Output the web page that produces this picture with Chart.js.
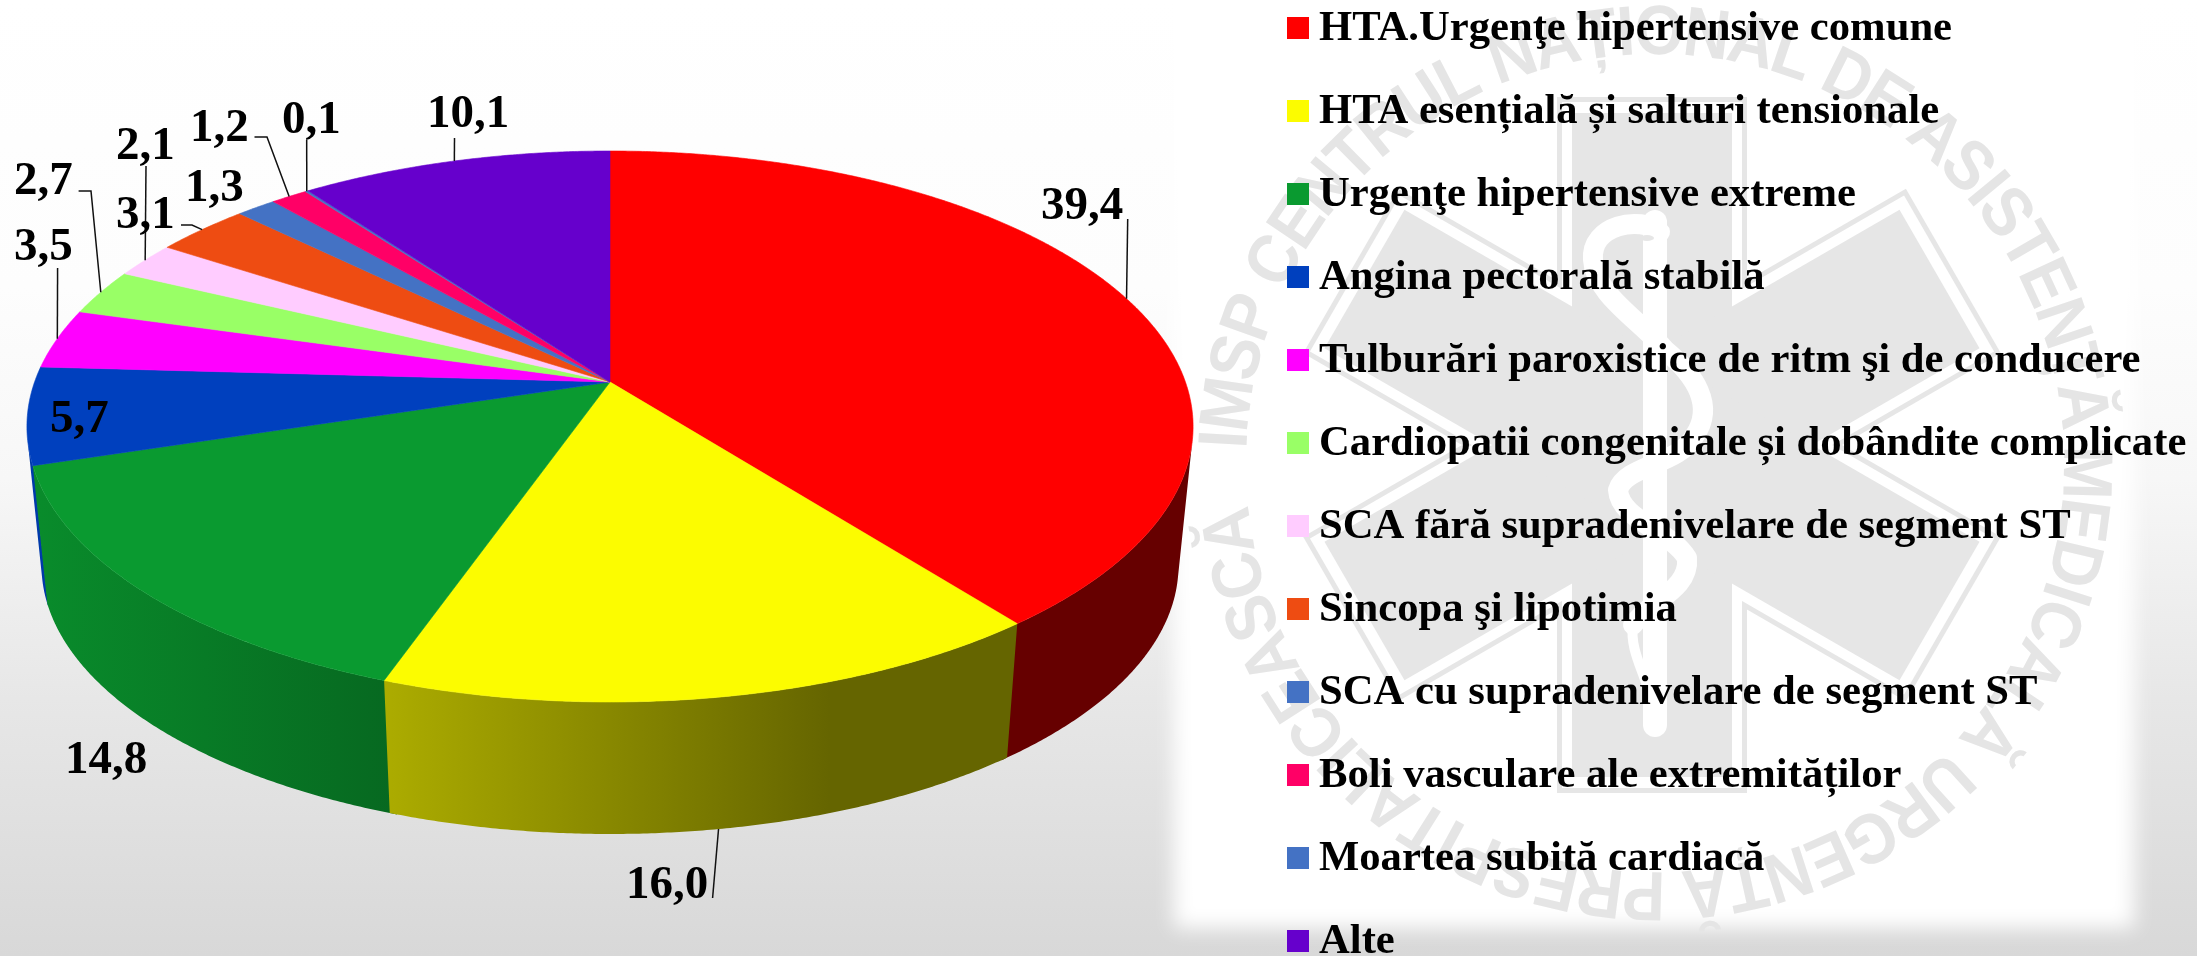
<!DOCTYPE html>
<html lang="ro">
<head>
<meta charset="utf-8">
<title>Pie chart</title>
<style>html,body{margin:0;padding:0;background:#fff}canvas{display:block}</style>
<script src="https://cdn.jsdelivr.net/npm/chart.js@4"></script>
</head>
<body>
<canvas id="c" width="2197" height="956"></canvas>
<script>
const categories = [
  "HTA.Urgenţe hipertensive comune",
  "HTA esențială și salturi tensionale",
  "Urgenţe hipertensive extreme",
  "Angina pectorală stabilă",
  "Tulburări paroxistice de ritm şi de conducere",
  "Cardiopatii congenitale și dobândite complicate",
  "SCA fără supradenivelare de segment ST",
  "Sincopa şi lipotimia",
  "SCA cu supradenivelare de segment ST",
  "Boli vasculare ale extremităților",
  "Moartea subită cardiacă",
  "Alte"
];
const values = [39.4, 16.0, 14.8, 5.7, 3.5, 2.7, 2.1, 3.1, 1.3, 1.2, 0.1, 10.1];
const valueLabels = ["39,4","16,0","14,8","5,7","3,5","2,7","2,1","3,1","1,3","1,2","0,1","10,1"];
const colors = ["#FF0000","#FCFC00","#0A9A30","#0040BE","#FF00FF","#99FF66","#FFCCFF","#EE4C12","#4472C4","#FF0066","#4472C4","#6600CC"];

// label layout: left x and baseline y of each value label
const labelPos = [[1041,219],[626,898],[65,773],[50,432],[14,260],[14,194],[116,159],[116,228],[185,201],[190,141],[282,133],[427,127]];
// leader start points (with optional elbow); null = no leader
const leaderStart = [
  [[1127.7,219]], [[712.6,898]], null, null, [[57.6,268]], [[78.6,191],[91,191]],
  [[146,166]], [[181,225],[192,225]], null, [[254.5,137],[267,137]], [[306.7,140]], [[454.5,138]]
];
const watermarkText = "IMSP CENTRUL NAȚIONAL DE ASISTENȚĂ MEDICALĂ URGENȚĂ PRESPITALICEASCĂ";

// perspective of the pie
const K = 0.1615, AX = 2.491, AY = 1.1615, DEPTH = 140, SHRINK = 0.975;
const FONT = '"Liberation Serif","Times New Roman",serif';

function project(arc, angle, bottom) {
  const u = Math.cos(angle), v = -Math.sin(angle), w = 1 + K * v, r = arc.outerRadius;
  const s = bottom ? SHRINK : 1;
  return [arc.x + s * AX * r * u / w, arc.y + (bottom ? DEPTH : 0) - s * AY * r * v / w];
}
function shade(hex, f) {
  const n = parseInt(hex.slice(1), 16);
  return `rgb(${Math.round((n >> 16) * f)},${Math.round(((n >> 8) & 255) * f)},${Math.round((n & 255) * f)})`;
}
function tracePath(ctx, pts) {
  ctx.beginPath();
  pts.forEach((p, i) => i ? ctx.lineTo(p[0], p[1]) : ctx.moveTo(p[0], p[1]));
  ctx.closePath();
}
function arcPts(arc, a0, a1, bottom) {
  const n = Math.max(2, Math.ceil(Math.abs(a1 - a0) / 0.006)), pts = [];
  for (let i = 0; i <= n; i++) pts.push(project(arc, a0 + (a1 - a0) * i / n, bottom));
  return pts;
}
function quadArea(a, b, c, d) {
  const q = [a, b, c, d];
  let s = 0;
  for (let i = 0; i < 4; i++) { const p = q[i], n = q[(i + 1) % 4]; s += p[0] * n[1] - n[0] * p[1]; }
  return s;
}
// outline of the part of a wall that faces the viewer
function frontWall(arc, a0, a1) {
  const up = arcPts(arc, a0, a1, false), low = arcPts(arc, a0, a1, true);
  const keepU = [], keepL = [];
  for (let k = 0; k + 1 < up.length; k++) {
    if (quadArea(up[k], up[k + 1], low[k + 1], low[k]) > 0) continue;
    if (!keepU.length) { keepU.push(up[k]); keepL.push(low[k]); }
    keepU.push(up[k + 1]); keepL.push(low[k + 1]);
  }
  return keepU.concat(keepL.reverse());
}

const pie3d = {
  id: 'pie3d',
  beforeDraw(chart) {
    const ctx = chart.ctx, W = chart.width, H = chart.height;
    ctx.save();
    const g = ctx.createLinearGradient(0, 0, 0, H);
    [[0,'#ffffff'],[0.3,'#fdfdfd'],[0.5,'#f7f7f7'],[0.73,'#e7e7e7'],[1,'#d8d8d8']].forEach(s => g.addColorStop(s[0], s[1]));
    ctx.fillStyle = g; ctx.fillRect(0, 0, W, H);
    // white panel behind watermark
    ctx.filter = 'blur(10px)';
    ctx.fillStyle = '#fff';
    ctx.fillRect(1174, -40, 960, 968);
    ctx.filter = 'none';
    // star of life
    const cx = 1652, cy = 445;
    const star = (w, l, col) => {
      ctx.fillStyle = col;
      for (let k = 0; k < 3; k++) {
        ctx.save(); ctx.translate(cx, cy); ctx.rotate(k * Math.PI / 3);
        ctx.fillRect(-w / 2, -l, w, 2 * l); ctx.restore();
      }
    };
    star(190, 348, '#e6e6e6');
    star(180, 343, '#ffffff');
    star(160, 332, '#e6e6e6');
    // staff and snake
    ctx.strokeStyle = '#fff'; ctx.lineCap = 'round'; ctx.lineJoin = 'round';
    ctx.lineWidth = 24;
    ctx.beginPath(); ctx.moveTo(1655, 222); ctx.lineTo(1655, 725); ctx.stroke();
    ctx.lineWidth = 20;
    ctx.beginPath(); ctx.moveTo(1660, 232);
    ctx.bezierCurveTo(1640, 215, 1590, 225, 1593, 260);
    ctx.bezierCurveTo(1595, 295, 1640, 320, 1665, 350);
    ctx.bezierCurveTo(1695, 375, 1715, 405, 1695, 435);
    ctx.bezierCurveTo(1680, 465, 1625, 465, 1618, 490);
    ctx.bezierCurveTo(1620, 520, 1670, 530, 1687, 558);
    ctx.bezierCurveTo(1690, 590, 1650, 600, 1633, 625);
    ctx.stroke();
    ctx.lineWidth = 10;
    ctx.beginPath(); ctx.moveTo(1633, 625);
    ctx.bezierCurveTo(1628, 660, 1660, 690, 1650, 727);
    ctx.stroke();
    ctx.fillStyle = '#e6e6e6';
    ctx.beginPath(); ctx.ellipse(1647, 238, 7, 3, 0, 0, 2 * Math.PI); ctx.fill();
    // ring text
    ctx.font = 'bold 70px "Liberation Sans",Arial,sans-serif';
    ctx.fillStyle = '#e5e5e5'; ctx.textAlign = 'center'; ctx.textBaseline = 'alphabetic';
    const chars = Array.from(watermarkText), baseR = 409, midR = 435;
    const widths = chars.map(c => ctx.measureText(c).width);
    const total = widths.reduce((a, b) => a + b, 0);
    const span = 352 * Math.PI / 180;
    const sx = span * midR / total;
    let ang = -Math.PI + 2 * Math.PI / 180;
    chars.forEach((c, i) => {
      const adv = widths[i] * sx;
      const mid = ang + (adv / 2) / midR;
      ctx.save(); ctx.translate(1655, 463); ctx.rotate(mid + Math.PI / 2); ctx.translate(0, -baseR);
      ctx.scale(sx, 1);
      ctx.fillText(c, 0, 0); ctx.restore();
      ang += adv / midR;
    });
    ctx.restore();
  },
  beforeDatasetDraw(chart) {
    const ctx = chart.ctx, data = chart.getDatasetMeta(0).data;
    ctx.save();
    // side wall; walls painted earlier reach slightly under the next one
    const overlap = { 0: [0, 0.012], 3: [-0.012, 0], 2: [-0.012, 0], 1: [0, 0] };
    [0, 3, 2, 1].forEach(i => {
      const a = data[i];
      const grad = ctx.createLinearGradient(40, 0, 830, 0);
      grad.addColorStop(0, shade(colors[i], 0.9));
      grad.addColorStop(1, shade(colors[i], 0.4));
      const wall = frontWall(a, a.startAngle + overlap[i][0], a.endAngle + overlap[i][1]);
      if (wall.length) { ctx.fillStyle = grad; tracePath(ctx, wall); ctx.fill(); }
    });
    // top face
    data.forEach((a, i) => {
      const pts = [[a.x, a.y]].concat(arcPts(a, a.startAngle, a.endAngle, false));
      ctx.fillStyle = colors[i]; ctx.strokeStyle = colors[i]; ctx.lineWidth = 0.6;
      tracePath(ctx, pts); ctx.fill(); ctx.stroke();
    });
    ctx.restore();
    return false;
  },
  afterDatasetsDraw(chart) {
    const ctx = chart.ctx, data = chart.getDatasetMeta(0).data;
    ctx.save();
    // leaders
    ctx.strokeStyle = '#111'; ctx.lineWidth = 1.5;
    data.forEach((a, i) => {
      if (!leaderStart[i]) return;
      const mid = (a.startAngle + a.endAngle) / 2;
      const end = project(a, mid, i === 1);
      ctx.beginPath();
      leaderStart[i].forEach((p, k) => k ? ctx.lineTo(p[0], p[1]) : ctx.moveTo(p[0], p[1]));
      ctx.lineTo(end[0], end[1]);
      ctx.stroke();
    });
    // value labels
    ctx.fillStyle = '#000'; ctx.font = `bold 47px ${FONT}`;
    ctx.textAlign = 'left'; ctx.textBaseline = 'alphabetic';
    valueLabels.forEach((t, i) => ctx.fillText(t, labelPos[i][0], labelPos[i][1]));
    // legend
    ctx.font = `bold 42.67px ${FONT}`;
    categories.forEach((t, i) => {
      const y = 17 + 83 * i;
      ctx.fillStyle = colors[i]; ctx.fillRect(1287, y, 22, 22);
      ctx.fillStyle = '#000'; ctx.fillText(t, 1319, y + 23);
    });
    ctx.restore();
  }
};

new Chart(document.getElementById('c'), {
  type: 'pie',
  data: { labels: categories, datasets: [{ data: values, backgroundColor: colors, borderWidth: 0 }] },
  options: {
    responsive: false, animation: false,
    layout: { padding: { left: 379, right: 1356, top: 151, bottom: 343 } },
    plugins: { legend: { display: false }, tooltip: { enabled: false } }
  },
  plugins: [pie3d]
});
</script>
</body>
</html>
